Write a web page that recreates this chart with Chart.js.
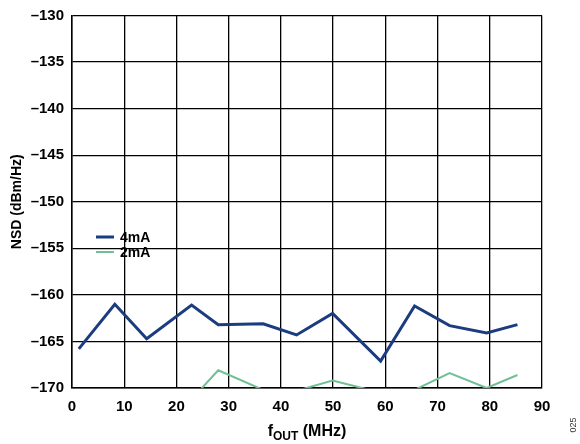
<!DOCTYPE html>
<html>
<head>
<meta charset="utf-8">
<script src="https://cdn.jsdelivr.net/npm/chart.js@4/dist/chart.umd.min.js"></script>
<style>
  html, body { margin: 0; padding: 0; background: #fff; }
  #wrap { width: 580px; height: 444px; }
</style>
</head>
<body>
<div id="wrap"><canvas id="nsdChart" width="580" height="444"></canvas></div>
<script>
// f_OUT in MHz
const fOut = [1.3, 8.2, 14.3, 22.9, 28.0, 36.6, 43.0, 49.9, 59.1, 65.6, 72.3, 79.4, 85.3];
const nsd4mA = [-165.8, -161.0, -164.7, -161.1, -163.2, -163.1, -164.3, -162.0, -167.1, -161.2, -163.3, -164.1, -163.2];
// 2mA sits mostly below the -170 floor, only the peaks show
const nsd2mA = [-172.5, -171.5, -172.0, -171.2, -168.1, -170.2, -170.3, -169.2, -170.5, -170.2, -168.4, -170.0, -168.6];
const seriesLabels = ["4mA", "2mA"];
const xTicks = [0, 10, 20, 30, 40, 50, 60, 70, 80, 90];
const yTicks = [-170, -165, -160, -155, -150, -145, -140, -135, -130];

const FONT = "'Liberation Sans', Arial, sans-serif";
const toPoints = (ys) => fOut.map((x, i) => ({ x: x, y: ys[i] }));

// titles, in-plot legend and the figure tag
const decorations = {
    id: "decorations",
    afterDraw(chart) {
        const ctx = chart.ctx;
        const area = chart.chartArea;
        ctx.save();
        ctx.fillStyle = "#000";

        // y title
        ctx.save();
        ctx.translate(17, (area.top + area.bottom) / 2);
        ctx.rotate(-Math.PI / 2);
        ctx.font = "bold 14px " + FONT;
        ctx.textAlign = "center";
        ctx.textBaseline = "middle";
        ctx.fillText("NSD (dBm/Hz)", 0, 0);
        ctx.restore();

        // x title with subscript
        const big = "bold 16px " + FONT;
        const small = "bold 12px " + FONT;
        ctx.textBaseline = "alphabetic";
        ctx.font = big;
        const wF = ctx.measureText("f").width;
        const wRest = ctx.measureText(" (MHz)").width;
        ctx.font = small;
        const wSub = ctx.measureText("OUT").width;
        let x = (area.left + area.right) / 2 - (wF + wSub + wRest) / 2;
        const base = 436;
        ctx.textAlign = "left";
        ctx.font = big;
        ctx.fillText("f", x, base);
        x += wF;
        ctx.font = small;
        ctx.fillText("OUT", x, base + 4);
        x += wSub;
        ctx.font = big;
        ctx.fillText(" (MHz)", x, base);

        // legend inside plot
        chart.data.datasets.forEach((ds, i) => {
            const y = 237 + i * 15;
            ctx.strokeStyle = ds.borderColor;
            ctx.lineWidth = ds.borderWidth;
            ctx.beginPath();
            ctx.moveTo(96, y);
            ctx.lineTo(114, y);
            ctx.stroke();
            ctx.font = "bold 14px " + FONT;
            ctx.textBaseline = "middle";
            ctx.fillStyle = "#000";
            ctx.fillText(ds.label, 120, y + 1);
        });

        // figure tag
        ctx.save();
        ctx.translate(574, 425);
        ctx.rotate(-Math.PI / 2);
        ctx.font = "9px " + FONT;
        ctx.fillStyle = "#333";
        ctx.textAlign = "center";
        ctx.textBaseline = "middle";
        ctx.fillText("025", 0, 0);
        ctx.restore();

        ctx.restore();
    },
};

new Chart(document.getElementById("nsdChart"), {
    type: "line",
    data: {
        datasets: [
            {
                label: seriesLabels[0],
                data: toPoints(nsd4mA),
                borderColor: "#1b3c7f",
                borderWidth: 3,
                pointRadius: 0,
                tension: 0,
            },
            {
                label: seriesLabels[1],
                data: toPoints(nsd2mA),
                borderColor: "#6fc095",
                borderWidth: 2,
                pointRadius: 0,
                tension: 0,
            },
        ],
    },
    options: {
        responsive: false,
        animation: false,
        layout: { padding: { left: 0, top: 6, right: 38, bottom: 0 } },
        plugins: {
            legend: { display: false },
            tooltip: { enabled: false },
        },
        scales: {
            x: {
                type: "linear",
                min: 0,
                max: 90,
                afterBuildTicks: (s) => { s.ticks = xTicks.map((v) => ({ value: v })); },
                afterFit: (s) => { s.height = 56; },
                grid: { color: "#000", lineWidth: 1.3, drawTicks: false },
                border: { color: "#000", width: 1.5 },
                ticks: {
                    color: "#000",
                    padding: 10,
                    font: { family: FONT, size: 15, weight: "bold" },
                },
            },
            y: {
                min: -170,
                max: -130,
                afterBuildTicks: (s) => { s.ticks = yTicks.map((v) => ({ value: v })); },
                afterFit: (s) => { s.width = 72; },
                grid: { color: "#000", lineWidth: 1.3, drawTicks: false },
                border: { color: "#000", width: 1.5 },
                ticks: {
                    color: "#000",
                    padding: 8,
                    font: { family: FONT, size: 15, weight: "bold", lineHeight: 1 },
                    callback: (v) => String(v).replace("-", "\u2013"),
                },
            },
        },
    },
    plugins: [decorations],
});
</script>
</body>
</html>
